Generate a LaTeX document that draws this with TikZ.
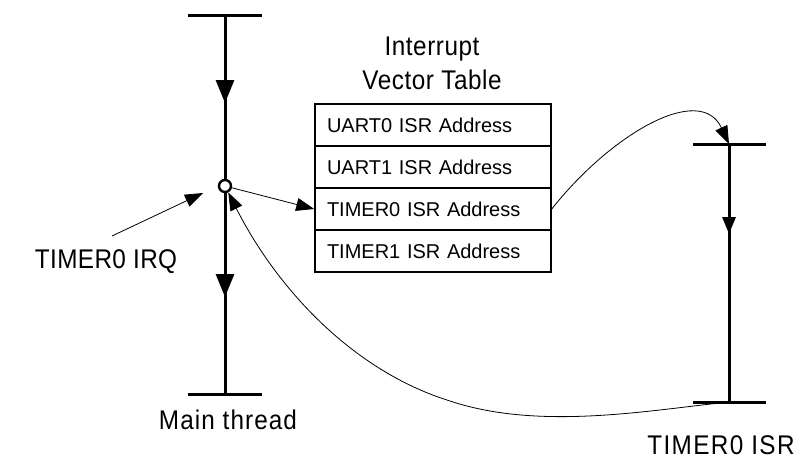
\documentclass[tikz,border=0pt]{standalone}
\usepackage{fontspec}
\setmainfont{Liberation Sans}
\newfontfamily\labelfamily[FakeStretch=0.9]{Liberation Sans}
\usetikzlibrary{arrows.meta,decorations.markings,calc}

\newcommand{\labelsize}{\labelfamily\fontsize{27}{34}\selectfont}
\newcommand{\rowsize}{\fontsize{20}{24}\selectfont}

\tikzset{
  threadline/.style={line width=3pt},
  bar/.style={line width=3pt},
  bigtip/.style={postaction={decorate,decoration={markings,
      mark=at position #1 with {\arrow{Triangle[length=23pt,width=18pt]}}}}},
  smalltip/.style={postaction={decorate,decoration={markings,
      mark=at position #1 with {\arrow{Triangle[length=17pt,width=13pt]}}}}},
  flow/.style={line width=0.8pt,-{Triangle[length=18pt,width=13pt]}},
  tblrow/.style={draw,line width=1.6pt,minimum width=236pt,minimum height=42pt,
      inner xsep=12pt,text width=212pt,align=left,font=\rowsize,anchor=center},
  caption/.style={font=\labelsize,align=center,inner sep=0pt},
}

\begin{document}
\begin{tikzpicture}[x=1pt,y=-1pt]
\useasboundingbox (0,0) rectangle (806,461);

% main thread
\coordinate (mt-top) at (225,15);
\coordinate (mt-bot) at (225,394);
\draw[threadline,bigtip=88pt,bigtip=282pt] (mt-top) -- (mt-bot);
\draw[bar] ($(mt-top)+(-37,0)$) -- ($(mt-top)+(37,0)$);
\draw[bar] ($(mt-bot)+(-37,0)$) -- ($(mt-bot)+(37,0)$);
\node[caption,anchor=base] (mt-label) at (228,429)
  {\addfontfeature{LetterSpace=4}Main thread};

% interrupt point on the main thread
\node[circle,draw,line width=2.4pt,fill=white,minimum size=12pt,inner sep=0pt] (irq) at (225,186) {};

% interrupt vector table
\node[caption] (ivt-title) at (432,63) {\addfontfeature{LetterSpace=2}Interrupt\\\addfontfeature{LetterSpace=2}Vector Table};
\node[tblrow] (r0) at (433,125) {UART0 ISR Address};
\node[tblrow] (r1) at (433,167) {UART1 ISR Address};
\node[tblrow] (r2) at (433,209) {TIMER0 ISR Address};
\node[tblrow] (r3) at (433,251) {TIMER1 ISR Address};

% TIMER0 ISR
\coordinate (isr-top) at (729,144);
\coordinate (isr-bot) at (729,402);
\draw[threadline,smalltip=90pt] (isr-top) -- (isr-bot);
\draw[bar] ($(isr-top)+(-36,0)$) -- ($(isr-top)+(37,0)$);
\draw[bar] ($(isr-bot)+(-36,0)$) -- ($(isr-bot)+(37,0)$);
\node[caption,anchor=base] (isr-label) at (721,454)
  {\addfontfeature{LetterSpace=5}TIMER0 ISR};

% IRQ label and its pointer
\node[caption,anchor=base] (irq-label) at (106,268)
  {\addfontfeature{LetterSpace=1.5}TIMER0 IRQ};
\coordinate (irq-tail) at (112,236);
\coordinate (irq-head) at (203,193);
\draw[flow] (irq-tail) -- (irq-head);

% vectoring and return
\draw[flow] (irq) -- (r2.west);
\draw[flow] (r2.east) .. controls (610,135) and (700,82) .. (isr-top);
\draw[flow] (isr-bot) .. controls (650,410) and (540,431) .. (450,401)
  .. controls (350,370) and (275,285) .. (irq);
\end{tikzpicture}
\end{document}
